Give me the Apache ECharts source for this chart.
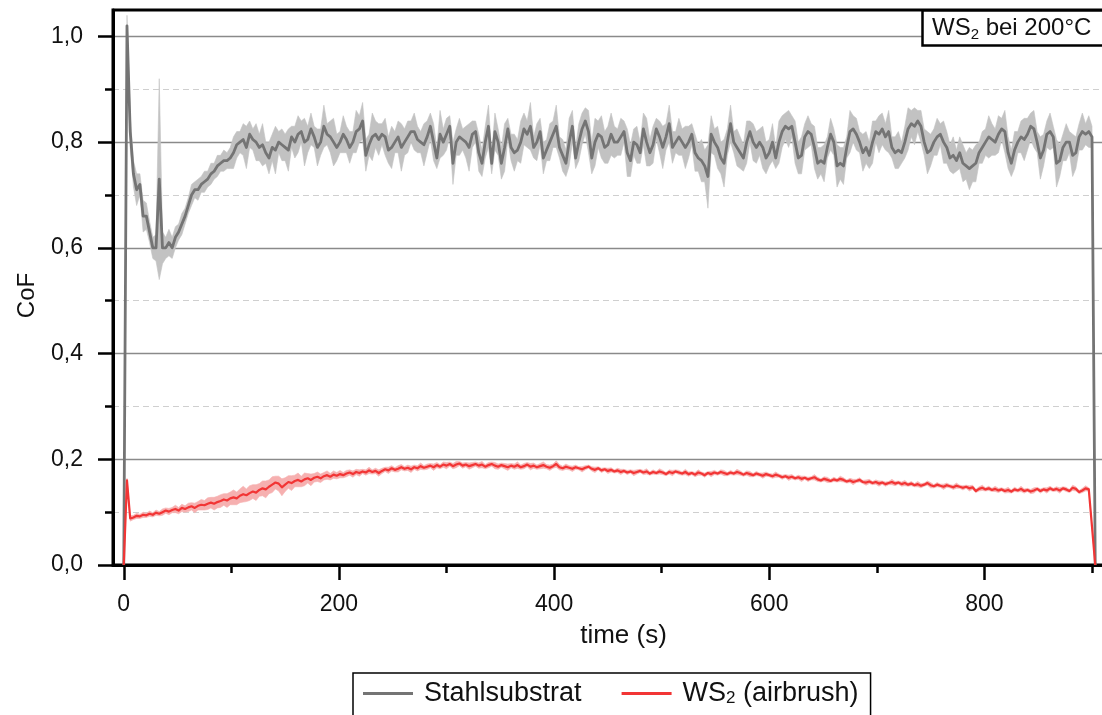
<!DOCTYPE html>
<html>
<head>
<meta charset="utf-8">
<title>CoF – WS2 bei 200°C</title>
<script src="https://cdn.jsdelivr.net/npm/echarts@6/dist/echarts.min.js"></script>
<style>
  html, body { margin: 0; padding: 0; background: #fff; }
  #chart { width: 1102px; height: 715px; }
</style>
</head>
<body>
<div id="chart"></div>
<script>
// Friction run at 200 °C, one sample every 3 s (t = 0 … 903 s)
const SAMPLE_STEP = 3;

// Stahlsubstrat: mean coefficient of friction
const grayMean = [
  0.00, 1.02, 0.82, 0.74, 0.71, 0.72, 0.66, 0.66, 0.63, 0.60,
  0.60, 0.73, 0.60, 0.60, 0.61, 0.60, 0.62, 0.63, 0.645, 0.66,
  0.68, 0.70, 0.71, 0.71, 0.72, 0.725, 0.73, 0.74, 0.745, 0.755,
  0.76, 0.765, 0.765, 0.77, 0.78, 0.795, 0.80, 0.805, 0.79, 0.815,
  0.805, 0.80, 0.79, 0.795, 0.78, 0.77, 0.79, 0.785, 0.80, 0.795,
  0.79, 0.785, 0.81, 0.80, 0.815, 0.82, 0.80, 0.805, 0.825, 0.81,
  0.79, 0.80, 0.83, 0.815, 0.81, 0.80, 0.79, 0.80, 0.815, 0.805,
  0.79, 0.80, 0.82, 0.825, 0.84, 0.775, 0.795, 0.81, 0.815, 0.805,
  0.815, 0.81, 0.785, 0.79, 0.80, 0.81, 0.79, 0.80, 0.81, 0.82,
  0.82, 0.805, 0.80, 0.795, 0.81, 0.83, 0.80, 0.77, 0.815, 0.80,
  0.815, 0.83, 0.76, 0.80, 0.81, 0.805, 0.80, 0.79, 0.815, 0.82,
  0.78, 0.76, 0.80, 0.83, 0.76, 0.82, 0.80, 0.76, 0.79, 0.825,
  0.79, 0.78, 0.785, 0.80, 0.825, 0.815, 0.83, 0.79, 0.80, 0.82,
  0.77, 0.785, 0.80, 0.815, 0.83, 0.79, 0.775, 0.76, 0.80, 0.83,
  0.77, 0.80, 0.825, 0.84, 0.82, 0.77, 0.80, 0.815, 0.81, 0.79,
  0.795, 0.815, 0.80, 0.80, 0.81, 0.82, 0.78, 0.765, 0.80, 0.795,
  0.78, 0.825, 0.80, 0.78, 0.795, 0.825, 0.81, 0.79, 0.81, 0.835,
  0.79, 0.80, 0.81, 0.80, 0.79, 0.80, 0.815, 0.78, 0.77, 0.765,
  0.755, 0.735, 0.815, 0.80, 0.79, 0.77, 0.76, 0.80, 0.835, 0.80,
  0.79, 0.78, 0.77, 0.80, 0.82, 0.80, 0.79, 0.80, 0.79, 0.77,
  0.78, 0.80, 0.77, 0.80, 0.82, 0.83, 0.825, 0.83, 0.80, 0.77,
  0.775, 0.81, 0.82, 0.815, 0.79, 0.76, 0.765, 0.76, 0.79, 0.815,
  0.80, 0.755, 0.76, 0.755, 0.79, 0.82, 0.825, 0.815, 0.80, 0.78,
  0.79, 0.775, 0.80, 0.82, 0.815, 0.825, 0.81, 0.82, 0.79, 0.78,
  0.785, 0.78, 0.80, 0.825, 0.835, 0.83, 0.84, 0.83, 0.80, 0.78,
  0.785, 0.80, 0.81, 0.815, 0.80, 0.79, 0.77, 0.775, 0.765, 0.78,
  0.76, 0.755, 0.75, 0.755, 0.76, 0.78, 0.79, 0.80, 0.81, 0.805,
  0.80, 0.815, 0.825, 0.82, 0.78, 0.76, 0.785, 0.80, 0.81, 0.805,
  0.815, 0.83, 0.825, 0.80, 0.77, 0.785, 0.815, 0.82, 0.81, 0.76,
  0.765, 0.79, 0.80, 0.80, 0.775, 0.78, 0.81, 0.82, 0.815, 0.82,
  0.81, 0.00
];

// Stahlsubstrat: half width of the scatter band
const graySpread = [
  0.00, 0.02, 0.03, 0.025, 0.03, 0.02, 0.03, 0.025, 0.02, 0.02,
  0.025, 0.19, 0.03, 0.02, 0.025, 0.02, 0.02, 0.015, 0.02, 0.015,
  0.015, 0.02, 0.015, 0.02, 0.015, 0.02, 0.015, 0.02, 0.015, 0.02,
  0.015, 0.02, 0.015, 0.02, 0.03, 0.025, 0.02, 0.03, 0.04, 0.025,
  0.02, 0.035, 0.025, 0.04, 0.02, 0.03, 0.025, 0.045, 0.02, 0.03,
  0.025, 0.04, 0.02, 0.03, 0.035, 0.02, 0.045, 0.025, 0.03, 0.02,
  0.035, 0.025, 0.04, 0.02, 0.03, 0.045, 0.025, 0.02, 0.035, 0.025,
  0.03, 0.02, 0.04, 0.025, 0.035, 0.03, 0.02, 0.045, 0.025, 0.03,
  0.02, 0.035, 0.025, 0.04, 0.02, 0.03, 0.045, 0.025, 0.03, 0.02,
  0.035, 0.025, 0.02, 0.04, 0.03, 0.025, 0.035, 0.02, 0.045, 0.025,
  0.03, 0.02, 0.04, 0.025, 0.035, 0.02, 0.03, 0.045, 0.025, 0.02,
  0.035, 0.025, 0.03, 0.04, 0.02, 0.035, 0.025, 0.03, 0.045, 0.02,
  0.025, 0.035, 0.02, 0.04, 0.03, 0.025, 0.045, 0.02, 0.035, 0.025,
  0.03, 0.02, 0.035, 0.025, 0.04, 0.02, 0.03, 0.025, 0.045, 0.03,
  0.02, 0.035, 0.03, 0.025, 0.04, 0.03, 0.045, 0.025, 0.04, 0.03,
  0.035, 0.04, 0.03, 0.025, 0.035, 0.02, 0.045, 0.03, 0.025, 0.035,
  0.02, 0.03, 0.045, 0.025, 0.035, 0.02, 0.03, 0.04, 0.025, 0.035,
  0.03, 0.02, 0.035, 0.025, 0.04, 0.03, 0.02, 0.035, 0.025, 0.04,
  0.03, 0.06, 0.035, 0.025, 0.04, 0.03, 0.045, 0.025, 0.035, 0.02,
  0.035, 0.03, 0.025, 0.04, 0.02, 0.035, 0.03, 0.025, 0.04, 0.03,
  0.025, 0.035, 0.02, 0.04, 0.03, 0.025, 0.035, 0.02, 0.04, 0.03,
  0.035, 0.025, 0.03, 0.02, 0.04, 0.03, 0.025, 0.035, 0.02, 0.03,
  0.025, 0.04, 0.03, 0.035, 0.02, 0.04, 0.025, 0.03, 0.02, 0.035,
  0.03, 0.025, 0.04, 0.02, 0.035, 0.03, 0.025, 0.04, 0.02, 0.03,
  0.035, 0.02, 0.03, 0.04, 0.025, 0.035, 0.02, 0.03, 0.025, 0.04,
  0.03, 0.025, 0.035, 0.02, 0.04, 0.03, 0.025, 0.035, 0.02, 0.03,
  0.035, 0.025, 0.04, 0.03, 0.035, 0.02, 0.03, 0.025, 0.04, 0.03,
  0.025, 0.035, 0.02, 0.04, 0.03, 0.025, 0.035, 0.02, 0.03, 0.04,
  0.03, 0.025, 0.035, 0.02, 0.04, 0.03, 0.025, 0.035, 0.02, 0.045,
  0.03, 0.025, 0.035, 0.02, 0.04, 0.03, 0.025, 0.035, 0.02, 0.03,
  0.02, 0.00
];

// WS2 (airbrush): mean coefficient of friction
const redMean = [
  0.000, 0.160, 0.088, 0.090, 0.093, 0.092, 0.095, 0.094, 0.097, 0.095,
  0.099, 0.097, 0.100, 0.103, 0.101, 0.104, 0.106, 0.103, 0.108, 0.106,
  0.109, 0.111, 0.108, 0.112, 0.114, 0.113, 0.116, 0.118, 0.116, 0.119,
  0.121, 0.124, 0.122, 0.126, 0.128, 0.126, 0.131, 0.134, 0.132, 0.136,
  0.139, 0.137, 0.142, 0.145, 0.143, 0.148, 0.152, 0.156, 0.154, 0.147,
  0.152, 0.157, 0.155, 0.159, 0.161, 0.158, 0.162, 0.164, 0.161, 0.165,
  0.167, 0.164, 0.168, 0.170, 0.167, 0.171, 0.169, 0.172, 0.170, 0.173,
  0.175, 0.172, 0.176, 0.174, 0.177, 0.175, 0.179, 0.176, 0.178, 0.174,
  0.178, 0.181, 0.179, 0.183, 0.180, 0.182, 0.185, 0.182, 0.184, 0.181,
  0.185, 0.183, 0.187, 0.184, 0.186, 0.188, 0.185, 0.189, 0.186, 0.190,
  0.188, 0.191, 0.187, 0.190, 0.192, 0.188, 0.190, 0.187, 0.189, 0.191,
  0.188, 0.190, 0.186, 0.189, 0.191, 0.188, 0.186, 0.189, 0.187, 0.185,
  0.188, 0.186, 0.189, 0.185, 0.187, 0.190, 0.186, 0.188, 0.185, 0.187,
  0.189, 0.186, 0.184, 0.187, 0.191, 0.185, 0.183, 0.186, 0.184, 0.182,
  0.185, 0.183, 0.181, 0.184, 0.186, 0.182, 0.180, 0.183, 0.179, 0.181,
  0.178, 0.180, 0.177, 0.179, 0.176, 0.178, 0.175, 0.177, 0.174, 0.176,
  0.178, 0.175, 0.177, 0.173, 0.176, 0.174, 0.177, 0.175, 0.172, 0.176,
  0.174, 0.177, 0.175, 0.173, 0.176, 0.172, 0.174, 0.171, 0.175, 0.173,
  0.170, 0.174, 0.172, 0.175, 0.173, 0.176, 0.174, 0.172, 0.175, 0.173,
  0.176, 0.174, 0.171, 0.174, 0.172, 0.170, 0.173, 0.171, 0.169, 0.172,
  0.170, 0.168, 0.171, 0.169, 0.166, 0.168, 0.165, 0.167, 0.164, 0.166,
  0.163, 0.165, 0.162, 0.164, 0.166, 0.162, 0.160, 0.163, 0.161, 0.159,
  0.162, 0.160, 0.163, 0.161, 0.158, 0.160, 0.157, 0.159, 0.161, 0.157,
  0.156, 0.158, 0.155, 0.157, 0.154, 0.156, 0.153, 0.155, 0.157, 0.154,
  0.156, 0.153, 0.155, 0.152, 0.154, 0.151, 0.153, 0.150, 0.152, 0.155,
  0.151, 0.149, 0.152, 0.150, 0.148, 0.151, 0.149, 0.147, 0.150, 0.148,
  0.146, 0.148, 0.145, 0.147, 0.140, 0.144, 0.146, 0.143, 0.145, 0.142,
  0.144, 0.141, 0.143, 0.140, 0.142, 0.139, 0.143, 0.141, 0.144, 0.140,
  0.142, 0.139, 0.141, 0.144, 0.140, 0.143, 0.141, 0.145, 0.142, 0.144,
  0.141, 0.145, 0.143, 0.140, 0.146, 0.144, 0.138, 0.141, 0.145, 0.143,
  0.072, 0.000
];

// WS2 (airbrush): half width of the scatter band
const redSpread = [
  0.000, 0.004, 0.005, 0.004, 0.005, 0.004, 0.005, 0.004, 0.005, 0.004,
  0.005, 0.004, 0.006, 0.005, 0.006, 0.005, 0.007, 0.006, 0.007, 0.006,
  0.008, 0.007, 0.009, 0.008, 0.010, 0.009, 0.011, 0.010, 0.012, 0.011,
  0.012, 0.011, 0.013, 0.012, 0.014, 0.012, 0.013, 0.015, 0.012, 0.014,
  0.013, 0.015, 0.012, 0.014, 0.016, 0.013, 0.015, 0.012, 0.014, 0.016,
  0.013, 0.012, 0.014, 0.011, 0.013, 0.010, 0.012, 0.009, 0.011, 0.008,
  0.009, 0.008, 0.007, 0.008, 0.006, 0.007, 0.006, 0.007, 0.005, 0.006,
  0.005, 0.006, 0.005, 0.006, 0.004, 0.005, 0.006, 0.004, 0.005, 0.006,
  0.005, 0.004, 0.006, 0.005, 0.004, 0.006, 0.005, 0.004, 0.005, 0.006,
  0.004, 0.005, 0.006, 0.004, 0.005, 0.004, 0.006, 0.005, 0.004, 0.005,
  0.006, 0.004, 0.005, 0.006, 0.004, 0.005, 0.004, 0.006, 0.005, 0.004,
  0.005, 0.006, 0.004, 0.005, 0.004, 0.006, 0.005, 0.004, 0.005, 0.006,
  0.004, 0.005, 0.006, 0.004, 0.005, 0.004, 0.006, 0.005, 0.004, 0.005,
  0.006, 0.004, 0.005, 0.004, 0.006, 0.005, 0.004, 0.005, 0.004, 0.005,
  0.004, 0.003, 0.005, 0.004, 0.003, 0.004, 0.005, 0.003, 0.004, 0.003,
  0.005, 0.004, 0.003, 0.004, 0.005, 0.003, 0.004, 0.003, 0.005, 0.004,
  0.003, 0.004, 0.005, 0.003, 0.004, 0.003, 0.005, 0.004, 0.003, 0.004,
  0.005, 0.003, 0.004, 0.003, 0.005, 0.004, 0.003, 0.004, 0.005, 0.003,
  0.004, 0.003, 0.005, 0.004, 0.003, 0.004, 0.005, 0.003, 0.004, 0.003,
  0.005, 0.004, 0.003, 0.004, 0.005, 0.003, 0.004, 0.003, 0.005, 0.004,
  0.003, 0.004, 0.005, 0.003, 0.004, 0.003, 0.005, 0.004, 0.003, 0.004,
  0.005, 0.003, 0.004, 0.003, 0.005, 0.004, 0.003, 0.004, 0.005, 0.003,
  0.004, 0.003, 0.005, 0.004, 0.003, 0.004, 0.005, 0.003, 0.004, 0.003,
  0.005, 0.004, 0.003, 0.004, 0.005, 0.003, 0.004, 0.003, 0.005, 0.004,
  0.003, 0.004, 0.005, 0.003, 0.004, 0.003, 0.005, 0.004, 0.003, 0.004,
  0.005, 0.003, 0.004, 0.003, 0.005, 0.004, 0.003, 0.004, 0.005, 0.003,
  0.004, 0.003, 0.005, 0.004, 0.003, 0.004, 0.005, 0.003, 0.004, 0.003,
  0.005, 0.004, 0.003, 0.004, 0.005, 0.003, 0.004, 0.003, 0.005, 0.004,
  0.003, 0.004, 0.005, 0.003, 0.004, 0.003, 0.005, 0.004, 0.003, 0.004,
  0.005, 0.003, 0.004, 0.003, 0.005, 0.004, 0.003, 0.004, 0.005, 0.003,
  0.000, 0.000
];

// Axis ticks
const xMajorTicks = [0, 200, 400, 600, 800];
const xMinorTicks = [100, 300, 500, 700, 900];
const yMajorTicks = [0, 0.2, 0.4, 0.6, 0.8, 1.0];
const yMinorTicks = [0.1, 0.3, 0.5, 0.7, 0.9];

const seriesNames = ['Stahlsubstrat', 'WS2 (airbrush)'];

// ---------------------------------------------------------------------------
const FONT = 'Liberation Sans, Arial, Helvetica, sans-serif';
const INK = '#111';
const GRAY_LINE = '#747474';
const GRAY_BAND = '#c2c2c2';
const RED_LINE = '#f23535';
const RED_BAND = '#f6b0b0';

const time = grayMean.map((_, i) => i * SAMPLE_STEP);
const toPairs = vals => vals.map((v, i) => [time[i], v]);

// Scatter band (mean ± spread) drawn as one filled polygon through the axes' scales
function bandSeries(name, mean, spread, color) {
  const rows = mean.map((v, i) => [time[i], v - spread[i], v + spread[i]]);
  return {
    name: name, type: 'custom', silent: true, clip: true,
    xAxisIndex: 0, yAxisIndex: 0,
    data: rows,
    encode: { x: 0, y: [1, 2] },
    renderItem: (params, api) => {
      if (params.dataIndex !== 0) return null;
      const upper = rows.map(r => api.coord([r[0], r[2]]));
      const lower = rows.map(r => api.coord([r[0], r[1]])).reverse();
      return {
        type: 'polygon',
        shape: { points: upper.concat(lower) },
        style: { fill: color, stroke: color, lineWidth: 0.6 }
      };
    }
  };
}

function meanSeries(name, mean, color, width) {
  return {
    name: name, type: 'line', data: toPairs(mean), symbol: 'none',
    color: color, xAxisIndex: 0, yAxisIndex: 0,
    lineStyle: { color: color, width: width, join: 'round' },
    emphasis: { disabled: true }
  };
}

const decimalComma = v => v.toFixed(1).replace('.', ',');

const chart = echarts.init(document.getElementById('chart'), null, { renderer: 'canvas' });

chart.setOption({
  animation: false,
  backgroundColor: '#ffffff',
  textStyle: { fontFamily: FONT, color: INK },
  grid: {
    left: 113, top: 10, width: 993, height: 555,
    show: true, borderColor: '#000', borderWidth: 3, backgroundColor: 'transparent',
    containLabel: false, outerBoundsMode: 'none'
  },
  title: {
    text: 'WS{s|2} bei 200°C',
    left: 922, top: 10,
    padding: [4, 30, 4, 10],
    backgroundColor: '#fff',
    borderColor: '#000', borderWidth: 2.5,
    textStyle: {
      fontFamily: FONT, fontSize: 24, fontWeight: 'normal', color: INK, lineHeight: 28,
      rich: { s: { fontFamily: FONT, fontSize: 15, color: INK, verticalAlign: 'bottom', lineHeight: 16 } }
    }
  },
  legend: {
    data: seriesNames,
    left: 353, top: 673,
    padding: [7, 12, 30, 10],
    borderColor: '#000', borderWidth: 1.5,
    backgroundColor: '#fff',
    icon: 'rect', itemWidth: 50, itemHeight: 3, itemGap: 40,
    selectedMode: false,
    formatter: n => n === 'WS2 (airbrush)' ? 'WS{s|2} (airbrush)' : n,
    textStyle: {
      fontFamily: FONT, fontSize: 27, color: INK, padding: [0, 0, 0, 6],
      rich: { s: { fontFamily: FONT, fontSize: 17, color: INK, verticalAlign: 'bottom', lineHeight: 15 } }
    }
  },
  xAxis: [
    {
      type: 'value', min: -10, max: 913, position: 'bottom',
      name: 'time (s)', nameLocation: 'middle', nameGap: 58,
      nameTextStyle: { fontFamily: FONT, fontSize: 26, color: INK, padding: [0, 0, 0, 28] },
      axisLine: { show: true, onZero: false, lineStyle: { color: '#000', width: 3 } },
      axisTick: { show: true, inside: false, length: 15, customValues: xMajorTicks,
                  lineStyle: { color: '#000', width: 2.5 } },
      axisLabel: { show: true, customValues: xMajorTicks, margin: 28,
                   fontFamily: FONT, fontSize: 23, color: INK },
      splitLine: { show: false }, minorTick: { show: false }
    },
    {
      type: 'value', min: -10, max: 913, position: 'bottom',
      axisLine: { show: false, onZero: false },
      axisTick: { show: true, inside: false, length: 8, customValues: xMinorTicks,
                  lineStyle: { color: '#000', width: 2.5 } },
      axisLabel: { show: false },
      splitLine: { show: false }
    }
  ],
  yAxis: [
    {
      type: 'value', min: 0, max: 1.05, position: 'left',
      name: 'CoF', nameLocation: 'middle', nameGap: 74, nameRotate: 90,
      nameTextStyle: { fontFamily: FONT, fontSize: 24, color: INK, padding: [0, 16, 0, 0] },
      axisLine: { show: true, onZero: false, lineStyle: { color: '#000', width: 3 } },
      axisTick: { show: true, inside: false, length: 15, customValues: yMajorTicks,
                  lineStyle: { color: '#000', width: 2.5 } },
      axisLabel: { show: true, customValues: yMajorTicks, margin: 30, formatter: decimalComma,
                   fontFamily: FONT, fontSize: 23, color: INK },
      splitLine: { show: true, lineStyle: { color: '#8a8a8a', width: 1.4, type: 'solid' } }
    },
    {
      type: 'value', min: 0, max: 1.05, position: 'left',
      axisLine: { show: false, onZero: false },
      axisTick: { show: true, inside: false, length: 8, customValues: yMinorTicks,
                  lineStyle: { color: '#000', width: 2.5 } },
      axisLabel: { show: false },
      splitLine: { show: true, lineStyle: { color: '#cfcfcf', width: 1, type: [6, 4] } }
    }
  ],
  series: [
    bandSeries('grayBand', grayMean, graySpread, GRAY_BAND),
    meanSeries('Stahlsubstrat', grayMean, GRAY_LINE, 2.8),
    bandSeries('redBand', redMean, redSpread, RED_BAND),
    meanSeries('WS2 (airbrush)', redMean, RED_LINE, 2.2)
  ]
});
</script>
</body>
</html>
